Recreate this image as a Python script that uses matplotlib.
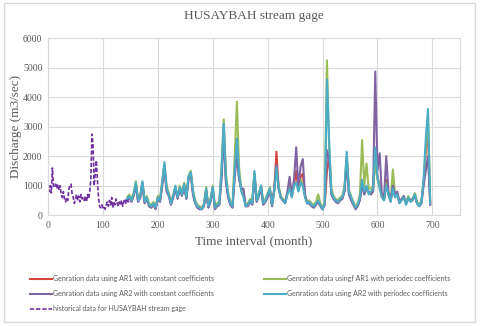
import numpy as np
import matplotlib
matplotlib.use("Agg")
import matplotlib.pyplot as plt
from matplotlib.patches import Rectangle

# Données historiques (mois 0 à 148, pas de 2)
hist_months = np.arange(0, 149, 2)
hist_flow = [
    850, 800, 1000, 750, 1600, 1000, 950, 1050, 900, 1050,
    850, 1000, 700, 600, 800, 550, 450, 600, 500, 900,
    1000, 1050, 700, 600, 400, 550, 700, 500, 650, 450,
    700, 550, 600, 500, 650, 450, 700, 550, 800, 1200,
    2750, 2400, 1000, 1400, 1850, 1200, 600, 300, 250, 350,
    250, 300, 200, 350, 450, 300, 500, 350, 600, 250,
    450, 350, 550, 400, 300, 450, 350, 500, 300, 450,
    550, 400, 500, 450, 550,
]

# Données générées (mois 144 à 696, pas de 4)
gen_months = np.arange(144, 697, 4)

ar1_const = [
    520, 620, 480, 680, 1050, 480, 620, 1100, 420, 580,
    330, 280, 380, 230, 580, 480, 1050, 1700, 850, 680,
    380, 620, 950, 580, 920, 680, 1020, 580, 1280, 1420,
    750, 420, 280, 230, 200, 330, 850, 280, 480, 920,
    230, 330, 380, 1400, 3000, 1200, 650, 380, 280, 1400,
    2300, 1300, 850, 700, 300, 330, 480, 380, 1400, 480,
    680, 950, 380, 480, 650, 880, 330, 850, 2150, 900,
    600, 480, 420, 750, 1100, 650, 1050, 1500, 850, 1300,
    1400, 650, 400, 420, 330, 280, 380, 480, 330, 200,
    380, 1500, 2000, 750, 580, 480, 420, 520, 580, 850,
    1950, 750, 550, 380, 230, 330, 550, 1100, 750, 950,
    750, 750, 850, 2000, 1300, 1000, 620, 520, 1200, 700,
    470, 950, 620, 720, 420, 520, 620, 380, 580, 470,
    520, 680, 420, 320, 430, 1100, 2200, 2800, 380,
]

ar1_period = [
    600, 700, 550, 750, 1150, 550, 700, 1100, 500, 650,
    400, 350, 450, 300, 650, 550, 1200, 1700, 1000, 750,
    450, 700, 950, 650, 1000, 750, 1100, 650, 1350, 1500,
    850, 500, 350, 300, 250, 400, 950, 350, 550, 1000,
    300, 400, 450, 1600, 3250, 1400, 750, 450, 350, 2000,
    3850, 1600, 900, 700, 350, 400, 550, 450, 1400, 550,
    750, 1000, 450, 550, 750, 950, 400, 850, 1700, 1000,
    650, 550, 450, 750, 1000, 650, 1050, 1100, 850, 1200,
    1100, 700, 450, 500, 400, 350, 450, 700, 400, 250,
    450, 5250, 2300, 900, 650, 550, 500, 600, 650, 1000,
    2000, 850, 650, 450, 300, 400, 700, 2550, 1000, 1750,
    900, 900, 1000, 1800, 1200, 1000, 650, 550, 1100, 750,
    500, 1550, 700, 750, 450, 550, 650, 400, 650, 500,
    550, 750, 450, 350, 500, 1100, 2300, 3300, 450,
]

ar2_const = [
    500, 600, 450, 650, 1000, 450, 600, 1050, 400, 550,
    300, 250, 350, 200, 550, 450, 1000, 1600, 800, 650,
    350, 600, 900, 550, 900, 650, 1000, 550, 1250, 1400,
    700, 400, 250, 200, 200, 300, 800, 250, 450, 900,
    200, 300, 350, 1200, 2700, 1100, 600, 350, 250, 1300,
    2000, 1200, 900, 900, 300, 300, 450, 350, 1300, 450,
    650, 900, 350, 450, 600, 850, 300, 900, 1700, 900,
    600, 500, 450, 800, 1300, 700, 1200, 2300, 900, 1650,
    1900, 700, 400, 400, 300, 250, 350, 450, 300, 200,
    350, 2200, 1900, 700, 550, 450, 400, 500, 550, 800,
    1800, 700, 500, 350, 200, 300, 500, 1000, 700, 900,
    800, 700, 800, 4870, 1500, 2100, 700, 600, 2000, 800,
    500, 1000, 700, 800, 450, 550, 650, 400, 550, 500,
    550, 650, 400, 300, 400, 1000, 1500, 2000, 350,
]

ar2_period = [
    550, 650, 500, 700, 1100, 500, 650, 1150, 450, 600,
    350, 300, 400, 250, 600, 500, 1100, 1800, 900, 700,
    400, 650, 1000, 600, 950, 700, 1050, 600, 1300, 1450,
    800, 450, 300, 250, 200, 350, 900, 300, 500, 950,
    250, 350, 400, 1500, 3100, 1300, 700, 400, 300, 1500,
    2600, 1400, 800, 600, 300, 350, 500, 400, 1500, 500,
    700, 1000, 400, 500, 700, 900, 350, 800, 1600, 900,
    600, 500, 400, 700, 900, 600, 1000, 1100, 800, 1100,
    1000, 600, 400, 450, 350, 300, 400, 500, 350, 200,
    400, 4600, 2500, 800, 600, 500, 450, 550, 600, 900,
    2150, 800, 600, 400, 250, 350, 600, 1200, 800, 1000,
    700, 800, 900, 2300, 1300, 900, 600, 500, 1000, 700,
    450, 900, 600, 700, 400, 500, 600, 350, 600, 450,
    500, 700, 400, 300, 450, 1200, 2600, 3600, 400,
]

labels = [
    'Genration data using AR1 with constant coefficients',
    'Genration data usingf AR1 with periodec coefficients',
    'Genration data using AR2 with constant coefficients',
    'Genration data using AR2 with periodec coefficients',
    'historical data for HUSAYBAH stream gage',
]
colors = ['#D9433B', '#9BBB59', '#8064A2', '#4BACC6', '#7030A0']

legend_font = 'Lato'
serif = 'Liberation Serif'
gray = '#595959'

fig = plt.figure(figsize=(4.8, 3.26), dpi=100)
fig.patches.append(Rectangle((0.008, 0.012), 0.982, 0.978, transform=fig.transFigure,
                             fill=False, edgecolor='#D9D9D9', linewidth=1))
ax = fig.add_axes([0.1, 0.34, 0.858, 0.543])

series = [ar1_const, ar1_period, ar2_const, ar2_period]
handles = []
for i, ys in enumerate(series):
    h, = ax.plot(gen_months, ys, color=colors[i], linewidth=1.5, label=labels[i])
    handles.append(h)
h, = ax.plot(hist_months, hist_flow, color=colors[4], linewidth=1.2,
             linestyle=(0, (2.5, 1.2)), label=labels[4])
handles.append(h)

ax.set_xlim(0, 750)
ax.set_ylim(0, 6000)
ax.set_xticks(range(0, 701, 100))
ax.set_yticks(range(0, 6001, 1000))
ax.grid(True, color='#D9D9D9', linewidth=0.8)
ax.set_axisbelow(True)
for s in ax.spines.values():
    s.set_color('#D9D9D9')
    s.set_linewidth(0.8)
ax.tick_params(length=0, labelsize=7, labelcolor=gray, pad=4)
for lab in ax.get_xticklabels() + ax.get_yticklabels():
    lab.set_fontfamily(serif)

ax.set_title('HUSAYBAH stream gage', fontfamily=serif, fontsize=9.5, color=gray, pad=14)
ax.set_xlabel('Time interval (month)', fontfamily=serif, fontsize=9.5, color=gray, labelpad=4)
ax.set_ylabel('Discharge (m3/sec)', fontfamily=serif, fontsize=9.5, color=gray)
ax.yaxis.set_label_coords(-0.062, 0.5)

order = [0, 2, 4, 1, 3]
leg = fig.legend([handles[k] for k in order], [labels[k] for k in order],
                 loc='upper left', bbox_to_anchor=(0.05, 0.175), ncol=2, frameon=False,
                 prop={'family': legend_font, 'size': 5}, handlelength=3.2,
                 handletextpad=0.1, columnspacing=7.2, labelspacing=1.15)
for t in leg.get_texts():
    t.set_color(gray)

fig.savefig('out.png', dpi=100)
